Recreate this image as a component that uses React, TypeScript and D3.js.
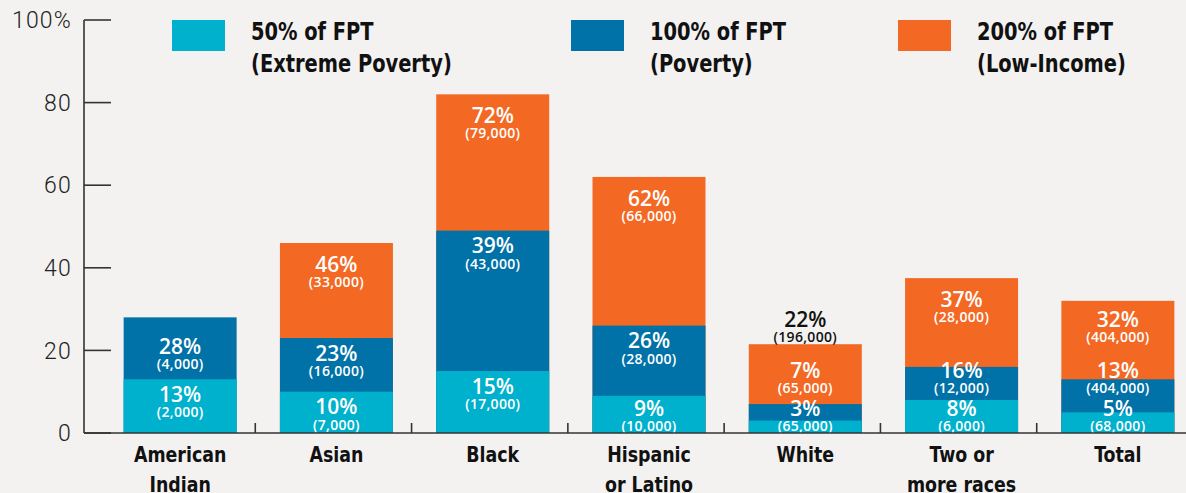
import React from 'react';
import * as d3 from 'd3';

// categories and bar tops (share of children, %)
const categories = ['American Indian', 'Asian', 'Black', 'Hispanic or Latino', 'White', 'Two or more races', 'Total'];
const categoryLines = [['American', 'Indian'], ['Asian'], ['Black'], ['Hispanic', 'or Latino'], ['White'], ['Two or', 'more races'], ['Total']];

const extremeValues = [13, 10, 15, 9, 3, 8, 5];
const povertyValues = [28, 23, 49, 26, 7, 16, 13];
const lowIncomeValues = [null, 46, 82, 62, 21.5, 37.5, 32];

const extremePct = ['13%', '10%', '15%', '9%', '3%', '8%', '5%'];
const extremeCount = ['(2,000)', '(7,000)', '(17,000)', '(10,000)', '(65,000)', '(6,000)', '(68,000)'];
const povertyPct = ['28%', '23%', '39%', '26%', '7%', '16%', '13%'];
const povertyCount = ['(4,000)', '(16,000)', '(43,000)', '(28,000)', '(65,000)', '(12,000)', '(404,000)'];
const lowIncomePct = [null, '46%', '72%', '62%', '22%', '37%', '32%'];
const lowIncomeCount = [null, '(33,000)', '(79,000)', '(66,000)', '(196,000)', '(28,000)', '(404,000)'];

const yTicks = [0, 20, 40, 60, 80, 100];

const legendItems = [
  { label: '50% of FPT', sub: '(Extreme Poverty)', color: '#00b1cd' },
  { label: '100% of FPT', sub: '(Poverty)', color: '#0072a7' },
  { label: '200% of FPT', sub: '(Low-Income)', color: '#f36823' },
];

const W = 1186;
const H = 493;
const BG = '#f3f2f0';
const AXIS = '#333';
const condensed = '"Liberation Sans Narrow", "DejaVu Sans Condensed", sans-serif';
const labelFont = '"Open Sans", "Noto Sans", sans-serif';

const App = () => {
  const axisX = 84;
  const y = d3.scaleLinear().domain([0, 100]).range([433, 20]);
  const x = d3.scaleBand()
    .domain(categories)
    .range([102, 1196])
    .paddingInner(0.277)
    .paddingOuter(0.1385);
  const base = y(0);
  const step = x.step();

  const bars = categories.map((c, i) => {
    const x0 = x(c) as number;
    const cx = x0 + x.bandwidth() / 2;
    const lightPctY = Math.min(y(extremeValues[i]) + 15, base - 25);
    const hasTop = lowIncomeValues[i] != null;
    const darkPctY = Math.min(y(povertyValues[i]) + (hasTop ? 15 : 29), lightPctY - 38);
    let topPctY = 0;
    let topOutside = false;
    if (hasTop) {
      topPctY = Math.min(y(lowIncomeValues[i] as number) + 21, darkPctY - 51);
      topOutside = topPctY - 10 < y(lowIncomeValues[i] as number);
    }
    return { c, i, x0, cx, lightPctY, darkPctY, topPctY, topOutside, hasTop };
  });

  const label = (cx: number, py: number, pct: string, count: string, fill: string, key: string) => (
    <g key={key} fill={fill} textAnchor="middle" fontFamily={labelFont}>
      <text x={cx} y={py} dy="0.36em" fontSize={21} fontWeight={600}>{pct}</text>
      <text x={cx} y={py + 18} dy="0.36em" fontSize={14} fontWeight={600} letterSpacing={0.3}>{count}</text>
    </g>
  );

  return (
    <svg width={W} height={H} style={{ position: 'absolute', left: 0, top: 0 }}>
      <rect width={W} height={H} fill={BG} />

      {/* legend */}
      {legendItems.map((d, i) => {
        const lx = [172, 571, 898][i];
        return (
          <g key={d.label}>
            <rect x={lx} y={20} width={53} height={31} fill={d.color} />
            <g transform={`translate(${lx + 79},0) scale(0.9,1)`} fontFamily={condensed} fontWeight={700} fontSize={24} fill="#111">
              <text x={0} y={40}>{d.label}</text>
              <text x={0} y={72}>{d.sub}</text>
            </g>
          </g>
        );
      })}

      {/* bars, widest tier first */}
      {bars.map(b => (
        <g key={b.c}>
          {b.hasTop && (
            <rect x={b.x0} width={x.bandwidth()} y={y(lowIncomeValues[b.i] as number)}
              height={base - y(lowIncomeValues[b.i] as number)} fill={legendItems[2].color} />
          )}
          <rect x={b.x0} width={x.bandwidth()} y={y(povertyValues[b.i])}
            height={base - y(povertyValues[b.i])} fill={legendItems[1].color} />
          <rect x={b.x0} width={x.bandwidth()} y={y(extremeValues[b.i])}
            height={base - y(extremeValues[b.i])} fill={legendItems[0].color} />
        </g>
      ))}

      {/* value labels */}
      {bars.map(b => (
        <g key={'l' + b.c}>
          {label(b.cx, b.lightPctY, extremePct[b.i], extremeCount[b.i], '#fff', 'e')}
          {label(b.cx, b.darkPctY, povertyPct[b.i], povertyCount[b.i], '#fff', 'p')}
          {b.hasTop && label(b.cx, b.topPctY, lowIncomePct[b.i] as string, lowIncomeCount[b.i] as string,
            b.topOutside ? '#111' : '#fff', 't')}
        </g>
      ))}

      {/* y axis */}
      <line x1={axisX} x2={axisX} y1={y(100)} y2={base} stroke={AXIS} strokeWidth={1.6} />
      {yTicks.map(t => (
        <g key={t}>
          <line x1={axisX} x2={axisX + 27} y1={y(t)} y2={y(t)} stroke={AXIS} strokeWidth={1.6} />
          <text x={72} y={y(t)} dy="0.36em" textAnchor="end" fontFamily='"Roboto", sans-serif'
            fontWeight={300} fontSize={23} letterSpacing={1.2} fill="#222">{t === 100 ? '100%' : t}</text>
        </g>
      ))}

      {/* x axis */}
      <line x1={axisX} x2={W} y1={base} y2={base} stroke={AXIS} strokeWidth={1.6} />
      {categories.slice(1).map(c => {
        const tx = (x(c) as number) - (step - x.bandwidth()) / 2 - 3;
        return <line key={c} x1={tx} x2={tx} y1={base} y2={base - 10} stroke={AXIS} strokeWidth={1.6} />;
      })}
      {categories.map((c, i) => (
        <g key={c} transform={`translate(${bars[i].cx},0) scale(0.9,1)`}>
          <text textAnchor="middle" fontFamily={condensed} fontWeight={700} fontSize={21.5} fill="#111">
            {categoryLines[i].map((ln, k) => (
              <tspan key={k} x={0} y={454 + k * 30} dy="0.36em">{ln}</tspan>
            ))}
          </text>
        </g>
      ))}
    </svg>
  );
};

export default App;
